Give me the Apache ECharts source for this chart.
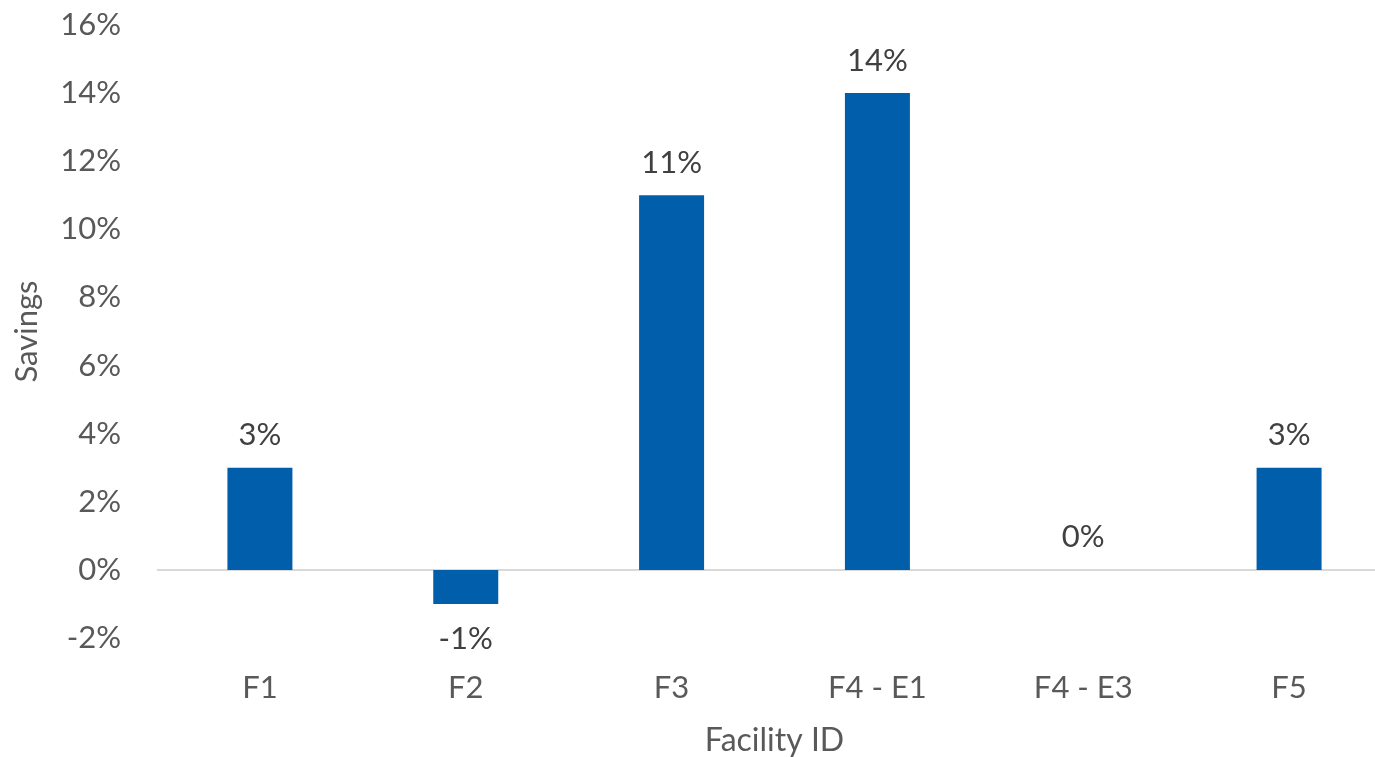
<!DOCTYPE html>
<html>
<head>
<meta charset="utf-8">
<script src="https://cdn.jsdelivr.net/npm/echarts@6/dist/echarts.min.js"></script>
<style>
  html, body { margin: 0; padding: 0; background: #ffffff; }
  #chart { width: 1375px; height: 757px; }
</style>
</head>
<body>
<div id="chart"></div>
<script>
// Savings per facility, in percent
const facilities = ['F1', 'F2', 'F3', 'F4 - E1', 'F4 - E3', 'F5'];
const savings = [3, -1, 11, 14, 0, 3];
const yTicks = { min: -2, max: 16, step: 2 };

const FONT = 'Lato, "Open Sans", sans-serif';
const BAR_COLOR = '#005EAA';

const chart = echarts.init(document.getElementById('chart'));
chart.setOption({
  animation: false,
  backgroundColor: '#ffffff',
  grid: {
    left: 157, top: 25, width: 1235, height: 613,
    containLabel: false,
    outerBoundsMode: 'none'
  },
  xAxis: {
    type: 'category',
    data: facilities,
    name: 'Facility ID',
    nameLocation: 'middle',
    nameGap: 87,
    nameTextStyle: { color: '#595959', fontSize: 32, fontFamily: FONT },
    axisLine: { show: false, onZero: false },
    axisTick: { show: false },
    axisLabel: { color: '#595959', fontSize: 31, fontFamily: FONT, margin: 34 }
  },
  yAxis: {
    type: 'value',
    min: yTicks.min,
    max: yTicks.max,
    interval: yTicks.step,
    name: 'Savings',
    nameLocation: 'middle',
    nameGap: 115,
    nameTextStyle: { color: '#595959', fontSize: 31, fontFamily: FONT },
    axisLine: { show: false },
    axisTick: { show: false },
    splitLine: { show: false },
    axisLabel: {
      color: '#595959', fontSize: 31, fontFamily: FONT, margin: 36,
      formatter: v => v + '%'
    }
  },
  series: [{
    type: 'bar',
    barWidth: 65,
    itemStyle: { color: BAR_COLOR },
    data: savings.map(v => ({
      value: v,
      label: v < 0 ? { position: 'bottom', distance: 20 } : { position: 'top' }
    })),
    label: {
      show: true,
      distance: 17,
      color: '#404040',
      fontSize: 31,
      fontFamily: FONT,
      formatter: p => p.value + '%'
    },
    markLine: {
      silent: true,
      symbol: 'none',
      label: { show: false },
      lineStyle: { color: '#d9d9d9', width: 2, type: 'solid' },
      data: [{ yAxis: 0 }],
      z: 1
    },
    z: 2
  }]
});
</script>
</body>
</html>
